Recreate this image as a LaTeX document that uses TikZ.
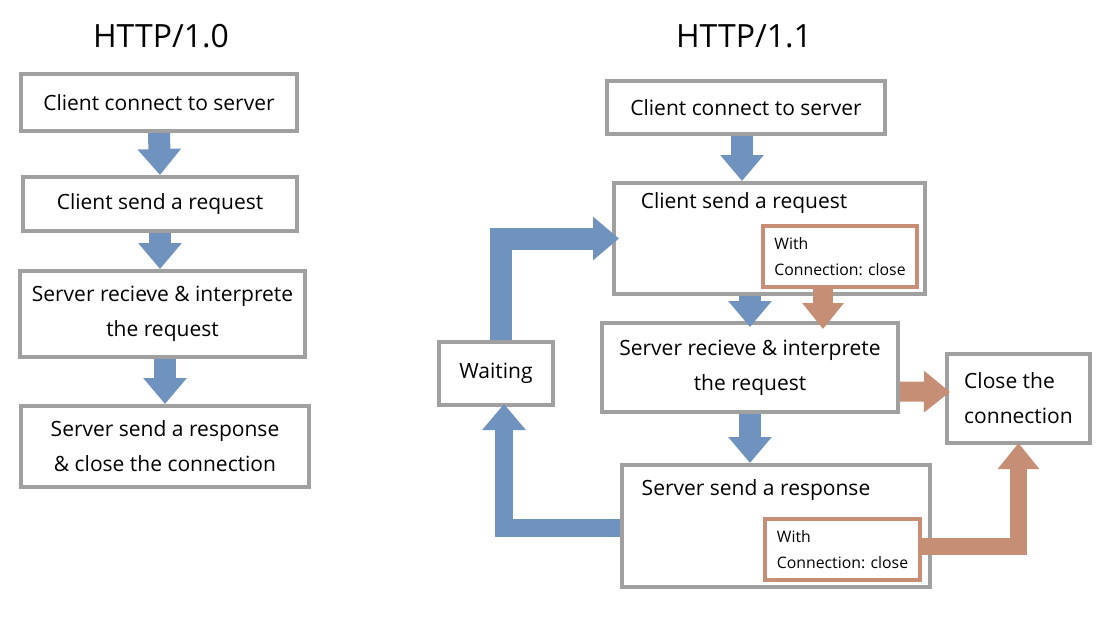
\documentclass[tikz,border=0pt]{standalone}
\usepackage{fontspec}
\setmainfont{Open Sans}
\usetikzlibrary{arrows.meta,calc}
\definecolor{boxgray}{RGB}{160,160,160}
\definecolor{flowblue}{RGB}{112,146,191}
\definecolor{flowbrown}{RGB}{197,142,117}

\begin{document}
\begin{tikzpicture}[x=1pt,y=-1pt,
		box/.style={draw=boxgray,line width=4pt,fill=white,inner sep=0pt,font=\fontsize{21}{35}\selectfont,align=center},
		tag/.style={draw=flowbrown,line width=4pt,fill=white,inner sep=0pt,font=\fontsize{15.8}{26}\selectfont,align=left},
		txt/.style={font=\fontsize{21}{35}\selectfont,inner sep=0pt},
		title/.style={font=\fontsize{32}{38}\selectfont,inner sep=0pt},
		bluearrow/.style={flowblue,line width=22pt,line join=miter,-{Triangle[width=42pt,length=26pt]}},
		brownarrow/.style={flowbrown,line width=20pt,line join=miter,-{Triangle[width=40pt,length=26pt]}}]
		\useasboundingbox (0,0) rectangle (1116,623);

		\node[title] (t10) at (161,36) {HTTP/1.0};
		\node[title] (t11) at (744,36) {HTTP/1.1};

		\node[box,minimum width=276pt,minimum height=57pt] (l1) at (159,102.5) {Client connect to server};
		\node[box,minimum width=274pt,minimum height=54pt] (l2) at (160,204) {Client send a request};
		\node[box,minimum width=285pt,minimum height=86pt] (l3) at (162.5,314) {Server recieve \& interprete\\the request};
		\node[box,minimum width=288pt,minimum height=81pt] (l4) at (165,446.5) {Server send a response\\\& close the connection};

		\node[box,minimum width=278pt,minimum height=53pt] (r1) at (746,107.5) {Client connect to server};
		\node[box,minimum width=311pt,minimum height=111pt] (r2) at (769.5,238.5) {};
		\node[txt] (r2t) at (744,203) {Client send a request};
		\node[tag,minimum width=154pt,minimum height=61pt] (r2c) at (840,256.5) {With\\Connection: close};
		\node[box,minimum width=296pt,minimum height=89pt] (r3) at (750,367.5) {Server recieve \& interprete\\the request};
		\node[box,minimum width=114pt,minimum height=63pt] (wt) at (496,373.5) {Waiting};
		\node[box,align=left,minimum width=143pt,minimum height=89pt] (cl) at (1018.5,398.5) {Close the\\connection};
		\node[box,minimum width=308pt,minimum height=122pt] (r4) at (776,526) {};
		\node[txt] (r4t) at (756,490) {Server send a response};
		\node[tag,minimum width=155pt,minimum height=61pt] (r4c) at (842.5,549.5) {With\\Connection: close};

		\draw[bluearrow] (l1.south) -- (l2.north);
		\draw[bluearrow] (l2.south) -- (l2.south |- l3.north);
		\draw[bluearrow] (l4.north |- l3.south) -- (l4.north);

		\draw[bluearrow] ($(r1.south)+(-4,0)$) -- ($(r1.south |- r2.north)+(-4,0)$);
		\draw[bluearrow] (r3.north |- r2.south) -- ($(r3.north)+(0,6)$);
		\coordinate (bk) at ($(r2c.south)+(-17,0)$);
		\draw[brownarrow] (bk) -- ($(bk |- r3.north)+(0,8)$);
		\draw[bluearrow] (r3.south) -- (r3.south |- r4.north);
		\draw[brownarrow] ($(r3.east)+(0,24)$) -- ($(cl.west)+(5,-6.5)$);
		\draw[bluearrow] ($(wt.north)+(5,0)$) |- ($(r2.west)+(7,0)$);
		\draw[bluearrow,line width=18pt] ($(r4.west)+(0,2)$) -| ($(wt.south)+(8,-3)$);
		\draw[brownarrow,line width=17pt] ($(r4c.east)+(0,-3.5)$) -| ($(cl.south)+(0,-2)$);
	\end{tikzpicture}
\end{document}
